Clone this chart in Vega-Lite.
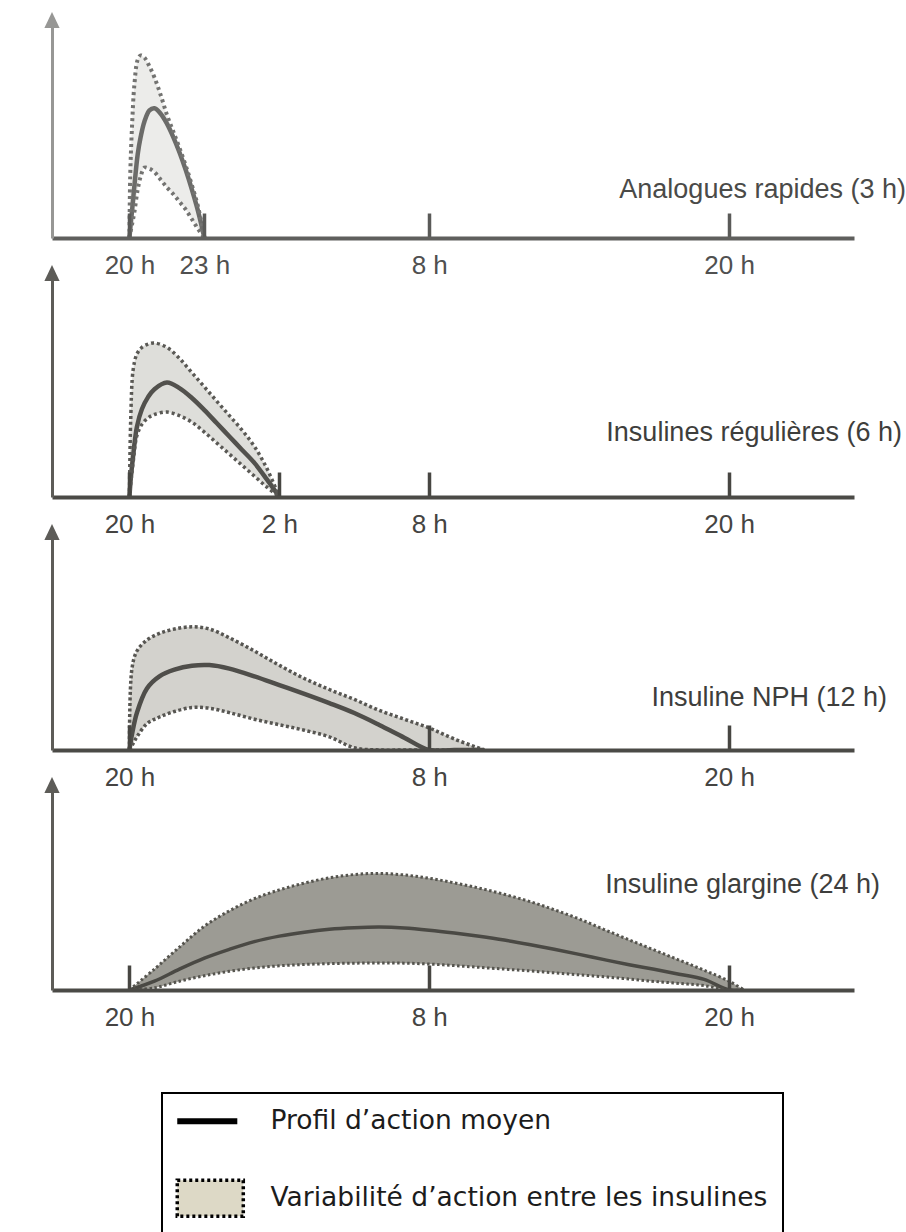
{
  "$schema": "https://vega.github.io/schema/vega-lite/v6.json",
  "background": "#ffffff",
  "padding": {"left": 44, "top": 12, "right": 0, "bottom": 0},
  "bounds": "flush",
  "spacing": 35,
  "datasets": {
    "p1": [
      {"t": 0, "hi": 0, "mean": 0, "lo": 0},
      {"t": 0.03, "hi": 28, "mean": 4, "lo": 2},
      {"t": 0.1, "hi": 50, "mean": 12, "lo": 6},
      {"t": 0.2, "hi": 70, "mean": 24, "lo": 12},
      {"t": 0.33, "hi": 81, "mean": 38, "lo": 22},
      {"t": 0.45, "hi": 83, "mean": 46, "lo": 28},
      {"t": 0.6, "hi": 82, "mean": 53, "lo": 32},
      {"t": 0.8, "hi": 78, "mean": 58, "lo": 31.5},
      {"t": 1.0, "hi": 73, "mean": 59, "lo": 30},
      {"t": 1.25, "hi": 65, "mean": 56.5, "lo": 26.5},
      {"t": 1.5, "hi": 56, "mean": 52, "lo": 23},
      {"t": 1.75, "hi": 48.5, "mean": 46, "lo": 20},
      {"t": 2.0, "hi": 41, "mean": 39, "lo": 16.5},
      {"t": 2.25, "hi": 33, "mean": 31, "lo": 13},
      {"t": 2.5, "hi": 24, "mean": 22, "lo": 8.5},
      {"t": 2.75, "hi": 14, "mean": 12, "lo": 4},
      {"t": 3.0, "hi": 0, "mean": 0, "lo": 0}
    ],
    "p2": [
      {"t": 0, "hi": 0, "mean": 0, "lo": 0},
      {"t": 0.05, "hi": 35, "mean": 8, "lo": 6},
      {"t": 0.15, "hi": 58, "mean": 19, "lo": 16},
      {"t": 0.3, "hi": 65, "mean": 32, "lo": 28},
      {"t": 0.5, "hi": 68, "mean": 40, "lo": 33},
      {"t": 0.75, "hi": 69.5, "mean": 45.5, "lo": 36},
      {"t": 1.0, "hi": 70, "mean": 49, "lo": 37.5},
      {"t": 1.5, "hi": 68, "mean": 52, "lo": 38.6},
      {"t": 2.0, "hi": 63, "mean": 49.5, "lo": 37},
      {"t": 2.5, "hi": 56.5, "mean": 45, "lo": 34},
      {"t": 3.0, "hi": 50, "mean": 39.5, "lo": 29.5},
      {"t": 3.5, "hi": 43.5, "mean": 33.5, "lo": 24.5},
      {"t": 4.0, "hi": 37, "mean": 27.5, "lo": 19.5},
      {"t": 4.5, "hi": 30.5, "mean": 21.5, "lo": 14.5},
      {"t": 5.0, "hi": 23, "mean": 15.5, "lo": 9.5},
      {"t": 5.5, "hi": 13, "mean": 8, "lo": 4.5},
      {"t": 6.0, "hi": 0, "mean": 0, "lo": 0}
    ],
    "p3": [
      {"t": 0, "hi": 0, "mean": 0, "lo": 0},
      {"t": 0.1, "hi": 37, "mean": 7, "lo": 2},
      {"t": 0.3, "hi": 45, "mean": 17, "lo": 6},
      {"t": 0.7, "hi": 50, "mean": 28, "lo": 12},
      {"t": 1.2, "hi": 53, "mean": 33.5, "lo": 15},
      {"t": 1.8, "hi": 55, "mean": 36.5, "lo": 17.5},
      {"t": 2.5, "hi": 56, "mean": 38.3, "lo": 19.3},
      {"t": 3.2, "hi": 55, "mean": 38.6, "lo": 19},
      {"t": 4, "hi": 51, "mean": 37, "lo": 17},
      {"t": 5, "hi": 45, "mean": 33.5, "lo": 14},
      {"t": 6, "hi": 38.5, "mean": 29.5, "lo": 11.5},
      {"t": 7, "hi": 32.5, "mean": 25.5, "lo": 9},
      {"t": 8, "hi": 27.5, "mean": 21.3, "lo": 6},
      {"t": 9, "hi": 23, "mean": 16.8, "lo": 1},
      {"t": 10, "hi": 18, "mean": 11.4, "lo": 0},
      {"t": 11, "hi": 14, "mean": 5.6, "lo": 0},
      {"t": 12, "hi": 10, "mean": 0, "lo": 0},
      {"t": 13, "hi": 5, "mean": 0, "lo": 0},
      {"t": 14.2, "hi": 0, "mean": 0, "lo": 0}
    ],
    "p4": [
      {"t": 0, "hi": 0, "mean": 0, "lo": 0},
      {"t": 1, "hi": 9.5, "mean": 4, "lo": 1},
      {"t": 2, "hi": 19.5, "mean": 9.5, "lo": 4},
      {"t": 3, "hi": 29, "mean": 14.5, "lo": 6.5},
      {"t": 4, "hi": 36, "mean": 18.5, "lo": 8.5},
      {"t": 5, "hi": 41.5, "mean": 22, "lo": 10},
      {"t": 6, "hi": 45.5, "mean": 24.5, "lo": 11},
      {"t": 7, "hi": 48.6, "mean": 26.3, "lo": 11.6},
      {"t": 8, "hi": 51, "mean": 27.6, "lo": 12},
      {"t": 9, "hi": 52.5, "mean": 28.3, "lo": 12.2},
      {"t": 10, "hi": 53, "mean": 28.6, "lo": 12.3},
      {"t": 11, "hi": 52.3, "mean": 28.2, "lo": 12.2},
      {"t": 12, "hi": 50.8, "mean": 27.2, "lo": 11.8},
      {"t": 13, "hi": 48.7, "mean": 25.9, "lo": 11.1},
      {"t": 14, "hi": 46.3, "mean": 24.4, "lo": 10.3},
      {"t": 15, "hi": 43.5, "mean": 22.7, "lo": 9.5},
      {"t": 16, "hi": 40.3, "mean": 20.7, "lo": 8.7},
      {"t": 17, "hi": 36.5, "mean": 18.5, "lo": 7.8},
      {"t": 18, "hi": 32.3, "mean": 16.2, "lo": 6.9},
      {"t": 19, "hi": 27.5, "mean": 13.8, "lo": 6},
      {"t": 20, "hi": 22.8, "mean": 11.5, "lo": 5},
      {"t": 21, "hi": 18.2, "mean": 9.4, "lo": 3.9},
      {"t": 22, "hi": 13.6, "mean": 7.2, "lo": 3},
      {"t": 23, "hi": 9, "mean": 4.8, "lo": 2},
      {"t": 24, "hi": 4, "mean": 0, "lo": 0},
      {"t": 24.6, "hi": 0, "mean": 0, "lo": 0}
    ],
    "legend": [
      {"item": "Profil d’action moyen"},
      {"item": "Variabilité d’action entre les insulines"}
    ]
  },
  "resolve": {
    "scale": {"x": "independent", "y": "independent", "color": "independent"},
    "legend": {"color": "independent"}
  },
  "config": {
    "view": {"stroke": null},
    "axis": {"grid": false}
  },
  "vconcat": [
    {
      "width": 802,
      "height": 218,
      "title": {"text": "Analogues rapides (3 h)", "orient": "top", "anchor": "end", "frame": "group", "offset": 0, "dx": 52, "dy": 213, "baseline": "alphabetic", "font": "Liberation Sans", "fontSize": 27, "fontWeight": "normal", "color": "#4a4a48"},
      "data": {"name": "p1"},
      "layer": [
        {
          "mark": {"type": "area", "interpolate": "catmull-rom", "clip": true, "color": "#ececea"},
          "encoding": {
            "x": {"field": "t", "type": "quantitative", "title": null, "scale": {"domain": [-3.1, 29], "nice": false, "zero": false},
              "axis": {"values": [0, 3, 12, 24], "labelExpr": "((20 + datum.value) % 24) + ' h'", "title": null, "grid": false, "tickSize": -25, "tickWidth": 3.5, "tickColor": "#5a5a58", "domainWidth": 4, "domainColor": "#5f5f5d", "labelPadding": 39, "labelFont": "Liberation Sans", "labelFontSize": 26, "labelColor": "#505050", "labelFlush": false, "labelOverlap": false, "zindex": 1}},
            "y": {"field": "hi", "type": "quantitative", "title": null, "scale": {"domain": [0, 99.1], "nice": false},
              "axis": {"title": null, "grid": false, "ticks": false, "labels": false, "domainWidth": 3, "domainColor": "#979795", "zindex": 1}},
            "y2": {"field": "lo"}
          }
        },
        {
          "mark": {"type": "line", "interpolate": "catmull-rom", "clip": true, "color": "#6b6b69", "strokeWidth": 4.5},
          "encoding": {"x": {"field": "t", "type": "quantitative", "title": null}, "y": {"field": "mean", "type": "quantitative", "title": null}}
        },
        {
          "mark": {"type": "line", "interpolate": "catmull-rom", "clip": true, "color": "#737371", "strokeWidth": 4, "strokeDash": [3, 3.5]},
          "encoding": {"x": {"field": "t", "type": "quantitative", "title": null}, "y": {"field": "hi", "type": "quantitative", "title": null}}
        },
        {
          "mark": {"type": "line", "interpolate": "catmull-rom", "clip": true, "color": "#737371", "strokeWidth": 4, "strokeDash": [3, 3.5]},
          "encoding": {"x": {"field": "t", "type": "quantitative", "title": null}, "y": {"field": "lo", "type": "quantitative", "title": null}}
        },
        {
          "data": {"values": [{"part": "arrow"}]},
          "mark": {"type": "point", "shape": "M0,-1L-0.95,1L0.95,1Z", "size": 256, "filled": true, "opacity": 1, "color": "#979795"},
          "encoding": {"x": {"datum": -3.1, "type": "quantitative"}, "y": {"datum": 99.1, "type": "quantitative"}}
        }
      ]
    },
    {
      "width": 802,
      "height": 224,
      "title": {"text": "Insulines régulières (6 h)", "orient": "top", "anchor": "end", "frame": "group", "offset": 0, "dx": 48, "dy": 203, "baseline": "alphabetic", "font": "Liberation Sans", "fontSize": 27, "fontWeight": "normal", "color": "#3e3e3c"},
      "data": {"name": "p2"},
      "layer": [
        {
          "mark": {"type": "area", "interpolate": "catmull-rom", "clip": true, "color": "#dededa"},
          "encoding": {
            "x": {"field": "t", "type": "quantitative", "title": null, "scale": {"domain": [-3.1, 29], "nice": false, "zero": false},
              "axis": {"values": [0, 6, 12, 24], "labelExpr": "((20 + datum.value) % 24) + ' h'", "title": null, "grid": false, "tickSize": -25, "tickWidth": 3.5, "tickColor": "#474642", "domainWidth": 4, "domainColor": "#4b4a46", "labelPadding": 39, "labelFont": "Liberation Sans", "labelFontSize": 26, "labelColor": "#454442", "labelFlush": false, "labelOverlap": false, "zindex": 1}},
            "y": {"field": "hi", "type": "quantitative", "title": null, "scale": {"domain": [0, 101.8], "nice": false},
              "axis": {"title": null, "grid": false, "ticks": false, "labels": false, "domainWidth": 3, "domainColor": "#5d5c58", "zindex": 1}},
            "y2": {"field": "lo"}
          }
        },
        {
          "mark": {"type": "line", "interpolate": "catmull-rom", "clip": true, "color": "#52514d", "strokeWidth": 4.5},
          "encoding": {"x": {"field": "t", "type": "quantitative", "title": null}, "y": {"field": "mean", "type": "quantitative", "title": null}}
        },
        {
          "mark": {"type": "line", "interpolate": "catmull-rom", "clip": true, "color": "#5a5955", "strokeWidth": 3.5, "strokeDash": [3, 3]},
          "encoding": {"x": {"field": "t", "type": "quantitative", "title": null}, "y": {"field": "hi", "type": "quantitative", "title": null}}
        },
        {
          "mark": {"type": "line", "interpolate": "catmull-rom", "clip": true, "color": "#5a5955", "strokeWidth": 3.5, "strokeDash": [3, 3]},
          "encoding": {"x": {"field": "t", "type": "quantitative", "title": null}, "y": {"field": "lo", "type": "quantitative", "title": null}}
        },
        {
          "data": {"values": [{"part": "arrow"}]},
          "mark": {"type": "point", "shape": "M0,-1L-0.95,1L0.95,1Z", "size": 256, "filled": true, "opacity": 1, "color": "#5d5c58"},
          "encoding": {"x": {"datum": -3.1, "type": "quantitative"}, "y": {"datum": 101.8, "type": "quantitative"}}
        }
      ]
    },
    {
      "width": 802,
      "height": 218,
      "title": {"text": "Insuline NPH (12 h)", "orient": "top", "anchor": "end", "frame": "group", "offset": 0, "dx": 33, "dy": 209, "baseline": "alphabetic", "font": "Liberation Sans", "fontSize": 27, "fontWeight": "normal", "color": "#3e3e3c"},
      "data": {"name": "p3"},
      "layer": [
        {
          "mark": {"type": "area", "interpolate": "catmull-rom", "clip": true, "color": "#d3d2cd"},
          "encoding": {
            "x": {"field": "t", "type": "quantitative", "title": null, "scale": {"domain": [-3.1, 29], "nice": false, "zero": false},
              "axis": {"values": [0, 12, 24], "labelExpr": "((20 + datum.value) % 24) + ' h'", "title": null, "grid": false, "tickSize": -25, "tickWidth": 3.5, "tickColor": "#474642", "domainWidth": 4, "domainColor": "#4b4a46", "labelPadding": 39, "labelFont": "Liberation Sans", "labelFontSize": 26, "labelColor": "#454442", "labelFlush": false, "labelOverlap": false, "zindex": 1}},
            "y": {"field": "hi", "type": "quantitative", "title": null, "scale": {"domain": [0, 99.1], "nice": false},
              "axis": {"title": null, "grid": false, "ticks": false, "labels": false, "domainWidth": 3, "domainColor": "#5d5c58", "zindex": 1}},
            "y2": {"field": "lo"}
          }
        },
        {
          "mark": {"type": "line", "interpolate": "catmull-rom", "clip": true, "color": "#4f4e4a", "strokeWidth": 4.5},
          "encoding": {"x": {"field": "t", "type": "quantitative", "title": null}, "y": {"field": "mean", "type": "quantitative", "title": null}}
        },
        {
          "mark": {"type": "line", "interpolate": "catmull-rom", "clip": true, "color": "#575652", "strokeWidth": 3.5, "strokeDash": [3, 2.5]},
          "encoding": {"x": {"field": "t", "type": "quantitative", "title": null}, "y": {"field": "hi", "type": "quantitative", "title": null}}
        },
        {
          "mark": {"type": "line", "interpolate": "catmull-rom", "clip": true, "color": "#575652", "strokeWidth": 3.5, "strokeDash": [3, 2.5]},
          "encoding": {"x": {"field": "t", "type": "quantitative", "title": null}, "y": {"field": "lo", "type": "quantitative", "title": null}}
        },
        {
          "data": {"values": [{"part": "arrow"}]},
          "mark": {"type": "point", "shape": "M0,-1L-0.95,1L0.95,1Z", "size": 256, "filled": true, "opacity": 1, "color": "#5d5c58"},
          "encoding": {"x": {"datum": -3.1, "type": "quantitative"}, "y": {"datum": 99.1, "type": "quantitative"}}
        }
      ]
    },
    {
      "width": 802,
      "height": 205,
      "title": {"text": "Insuline glargine (24 h)", "orient": "top", "anchor": "end", "frame": "group", "offset": 0, "dx": 26, "dy": 143, "baseline": "alphabetic", "font": "Liberation Sans", "fontSize": 27, "fontWeight": "normal", "color": "#3e3e3c"},
      "data": {"name": "p4"},
      "layer": [
        {
          "mark": {"type": "area", "interpolate": "catmull-rom", "clip": true, "color": "#9c9b94"},
          "encoding": {
            "x": {"field": "t", "type": "quantitative", "title": null, "scale": {"domain": [-3.1, 29], "nice": false, "zero": false},
              "axis": {"values": [0, 12, 24], "labelExpr": "((20 + datum.value) % 24) + ' h'", "title": null, "grid": false, "tickSize": -25, "tickWidth": 3.5, "tickColor": "#474642", "domainWidth": 4, "domainColor": "#4b4a46", "labelPadding": 39, "labelFont": "Liberation Sans", "labelFontSize": 26, "labelColor": "#454442", "labelFlush": false, "labelOverlap": false, "zindex": 1}},
            "y": {"field": "hi", "type": "quantitative", "title": null, "scale": {"domain": [0, 93.2], "nice": false},
              "axis": {"title": null, "grid": false, "ticks": false, "labels": false, "domainWidth": 3, "domainColor": "#5d5c58", "zindex": 1}},
            "y2": {"field": "lo"}
          }
        },
        {
          "mark": {"type": "line", "interpolate": "catmull-rom", "clip": true, "color": "#4a4944", "strokeWidth": 3.5},
          "encoding": {"x": {"field": "t", "type": "quantitative", "title": null}, "y": {"field": "mean", "type": "quantitative", "title": null}}
        },
        {
          "mark": {"type": "line", "interpolate": "catmull-rom", "clip": true, "color": "#55544e", "strokeWidth": 3, "strokeDash": [2.5, 2.5]},
          "encoding": {"x": {"field": "t", "type": "quantitative", "title": null}, "y": {"field": "hi", "type": "quantitative", "title": null}}
        },
        {
          "mark": {"type": "line", "interpolate": "catmull-rom", "clip": true, "color": "#55544e", "strokeWidth": 3, "strokeDash": [2.5, 2.5]},
          "encoding": {"x": {"field": "t", "type": "quantitative", "title": null}, "y": {"field": "lo", "type": "quantitative", "title": null}}
        },
        {
          "data": {"values": [{"part": "arrow"}]},
          "mark": {"type": "point", "shape": "M0,-1L-0.95,1L0.95,1Z", "size": 256, "filled": true, "opacity": 1, "color": "#5d5c58"},
          "encoding": {"x": {"datum": -3.1, "type": "quantitative"}, "y": {"datum": 93.2, "type": "quantitative"}}
        },
        {
          "data": {"name": "legend"},
          "mark": {"type": "point", "opacity": 0, "filled": true},
          "encoding": {
            "color": {"field": "item", "type": "nominal",
              "scale": {"domain": ["Profil d’action moyen", "Variabilité d’action entre les insulines"], "range": ["#000000", "#ddd9c6"]},
              "legend": {
                "title": null, "orient": "none", "legendX": 110, "legendY": 308,
                "padding": 15, "strokeColor": "#000000", "fillColor": "#ffffff",
                "symbolSize": 676, "labelOffset": 67, "rowPadding": 38,
                "labelFont": "DejaVu Sans", "labelFontSize": 26.5, "labelColor": "#1c1c1c", "labelLimit": 900,
                "encode": {
                  "legend": {"update": {"strokeWidth": {"value": 2}}},
                  "symbols": {
                    "update": {
                      "shape": {"signal": "datum.index === 0 ? 'M-1,0H3.62' : 'M-1,-1.385H4.08V1.385H-1Z'"},
                      "size": {"value": 676},
                      "fill": {"signal": "datum.index === 0 ? 'transparent' : '#ddd9c6'"},
                      "stroke": {"value": "#000000"},
                      "strokeWidth": {"signal": "datum.index === 0 ? 6 : 3.5"},
                      "strokeDash": {"signal": "datum.index === 0 ? [1, 0] : [3, 3]"},
                      "opacity": {"value": 1},
                      "fillOpacity": {"value": 1},
                      "strokeOpacity": {"value": 1}
                    }
                  }
                }
              }
            }
          }
        }
      ]
    }
  ]
}
